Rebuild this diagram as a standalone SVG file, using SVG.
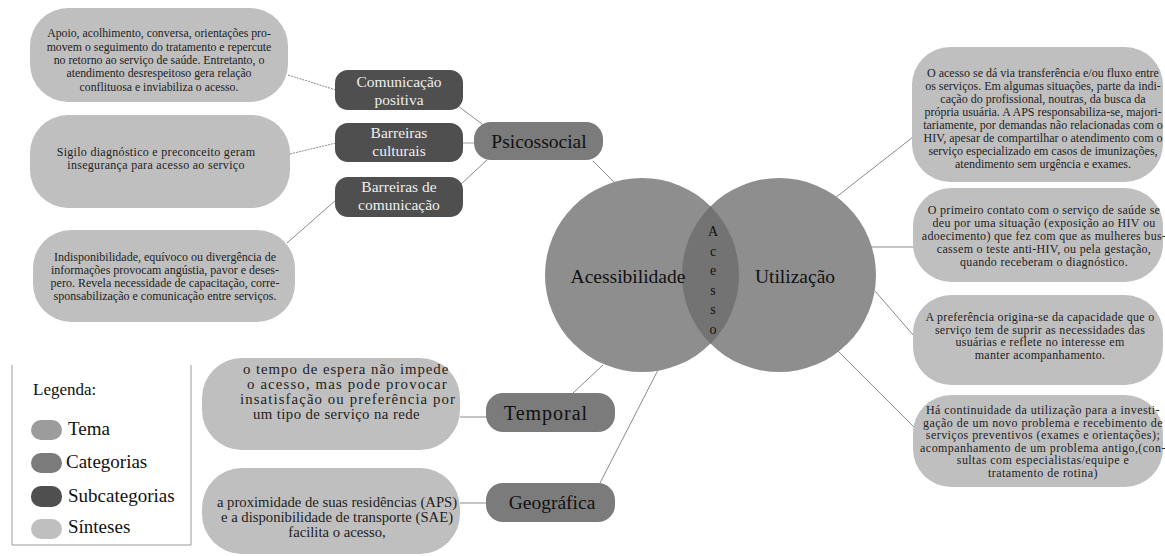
<svg xmlns="http://www.w3.org/2000/svg" width="1165" height="556" viewBox="0 0 1165 556">
<style>
text{font-family:"Liberation Serif","Times New Roman",serif;}
.syn{fill:#bfbfbf;}
.sub{fill:#4f4f4f;}
.cat{fill:#7b7b7b;}
.st{font-size:12px;fill:#222;text-anchor:middle;}
.sbt{font-size:15.5px;fill:#eeeeee;text-anchor:middle;}
.ct{font-size:19.5px;fill:#111;text-anchor:middle;}
.ln{stroke:#8a8a8a;stroke-width:1;fill:none;}
.dl{stroke:#8a8a8a;stroke-width:1;fill:none;stroke-dasharray:2 1;}
.lg{font-size:19px;fill:#111;}
</style>
<rect width="1165" height="556" fill="#ffffff"/>
<g id="connectors">
<line class="dl" x1="288" y1="75" x2="336" y2="90"/>
<line class="dl" x1="290" y1="154" x2="336" y2="143"/>
<line class="ln" x1="287" y1="243" x2="336" y2="200"/>
<line class="ln" x1="458" y1="106" x2="482" y2="124"/>
<line x1="462" y1="143" x2="475" y2="143" stroke="#cfcfcf" stroke-width="2"/>
<line class="ln" x1="460" y1="185" x2="487" y2="160"/>
<line class="ln" x1="593" y1="161" x2="614" y2="182"/>
<line class="ln" x1="573" y1="393" x2="603" y2="365"/>
<line class="ln" x1="600" y1="483" x2="658" y2="370"/>
<line class="ln" x1="460" y1="417" x2="487" y2="417"/>
<line class="ln" x1="460" y1="503" x2="487" y2="503"/>
<line class="ln" x1="835" y1="198" x2="913" y2="137"/>
<line class="ln" x1="871" y1="247" x2="914" y2="247"/>
<line class="ln" x1="875" y1="291" x2="914" y2="336"/>
<line class="ln" x1="837" y1="350" x2="914" y2="427"/>
</g>
<g id="synth-apoio">
<rect class="syn" x="30" y="8" width="258" height="94" rx="38"/>
<g class="st" style="font-size:11.8px">
<text x="159" y="37">Apoio, acolhimento, conversa, orientações pro-</text>
<text x="159" y="51">movem o seguimento do tratamento e repercute</text>
<text x="159" y="64">no retorno ao serviço de saúde. Entretanto, o</text>
<text x="159" y="77">atendimento desrespeitoso gera relação</text>
<text x="159" y="91">conflituosa e inviabiliza o acesso.</text>
</g>
</g>
<g id="synth-sigilo">
<rect class="syn" x="30" y="115" width="260" height="93" rx="38"/>
<g class="st" style="letter-spacing:0.3px">
<text x="156" y="156">Sigilo diagnóstico e preconceito geram</text>
<text x="156" y="169">insegurança para acesso ao serviço</text>
</g>
</g>
<g id="synth-indisp">
<rect class="syn" x="33" y="230" width="262" height="92" rx="38"/>
<g class="st">
<text x="165" y="261">Indisponibilidade, equívoco ou divergência de</text>
<text x="165" y="274">informações provocam angústia, pavor e deses-</text>
<text x="165" y="287">pero. Revela necessidade de capacitação, corre-</text>
<text x="165" y="300">sponsabilização e comunicação entre serviços.</text>
</g>
</g>
<g id="sub-comunicacao">
<rect class="sub" x="335" y="70" width="128" height="40" rx="13"/>
<text class="sbt" x="399" y="87">Comunicação</text>
<text class="sbt" x="399" y="105">positiva</text>
</g>
<g id="sub-culturais">
<rect class="sub" x="335" y="123" width="128" height="39" rx="13"/>
<text class="sbt" x="399" y="138">Barreiras</text>
<text class="sbt" x="399" y="156">culturais</text>
</g>
<g id="sub-barreiras-com">
<rect class="sub" x="335" y="177" width="128" height="40" rx="13"/>
<text class="sbt" x="399" y="192">Barreiras de</text>
<text class="sbt" x="399" y="210">comunicação</text>
</g>
<g id="cat-psicossocial">
<rect class="cat" x="474" y="122" width="129" height="38" rx="17"/>
<text class="ct" x="539" y="148">Psicossocial</text>
</g>
<g id="theme-circles">
<circle cx="642" cy="275" r="97" fill="#8e8e8e"/>
<circle cx="779" cy="275" r="97" fill="#8e8e8e"/>
<path d="M710.5,206.3 A97,97 0 0,1 710.5,343.7 A97,97 0 0,1 710.5,206.3 Z" fill="#737373"/>
<text class="ct" x="628" y="283">Acessibilidade</text>
<text class="ct" x="795" y="283">Utilização</text>
<g style="font-size:14px;fill:#111;text-anchor:middle;">
<text x="713" y="236">A</text>
<text x="713" y="256">c</text>
<text x="713" y="275">e</text>
<text x="713" y="295">s</text>
<text x="713" y="314">s</text>
<text x="713" y="334">o</text>
</g>
</g>
<g id="cat-temporal">
<rect class="cat" x="486" y="393" width="129" height="39" rx="17"/>
<text class="ct" x="546" y="420" style="font-size:20px;letter-spacing:1px">Temporal</text>
</g>
<g id="cat-geografica">
<rect class="cat" x="486" y="483" width="129" height="39" rx="17"/>
<text class="ct" x="552" y="509">Geográfica</text>
</g>
<g id="synth-tempo">
<rect class="syn" x="202" y="358" width="258" height="92" rx="40"/>
<g style="font-size:14.8px;fill:#222;text-anchor:start;">
<text x="243" y="374" style="letter-spacing:0.95px">o tempo de espera não impede</text>
<text x="247" y="389" style="letter-spacing:1.15px">o acesso, mas pode provocar</text>
<text x="240" y="404" style="letter-spacing:1.1px">insatisfação ou preferência por</text>
<text x="253" y="419" style="letter-spacing:0.4px">um tipo de serviço na rede</text>
</g>
</g>
<g id="synth-proximidade">
<rect class="syn" x="202" y="468" width="258" height="86" rx="40"/>
<g style="font-size:14.7px;fill:#222;text-anchor:middle;">
<text x="337" y="507">a proximidade de suas residências (APS)</text>
<text x="337" y="522">e a disponibilidade de transporte (SAE)</text>
<text x="337" y="537">facilita o acesso,</text>
</g>
</g>
<g id="synth-transferencia">
<rect class="syn" x="912" y="47" width="251" height="135" rx="38"/>
<g class="st">
<text x="1043" y="77">O acesso se dá via transferência e/ou fluxo entre</text>
<text x="1043" y="90">os serviços. Em algumas situações, parte da indi-</text>
<text x="1043" y="103">cação do profissional, noutras, da busca da</text>
<text x="1043" y="116">própria usuária. A APS responsabiliza-se, majori-</text>
<text x="1043" y="129">tariamente, por demandas não relacionadas com o</text>
<text x="1043" y="142">HIV, apesar de compartilhar o atendimento com o</text>
<text x="1043" y="155">serviço especializado em casos de imunizações,</text>
<text x="1043" y="168">atendimento sem urgência e exames.</text>
</g>
</g>
<g id="synth-primeiro">
<rect class="syn" x="913" y="188" width="250" height="94" rx="38"/>
<g class="st" style="letter-spacing:0.3px">
<text x="1044" y="214">O primeiro contato com o serviço de saúde se</text>
<text x="1044" y="227">deu por uma situação (exposição ao HIV ou</text>
<text x="1044" y="240">adoecimento) que fez com que as mulheres bus-</text>
<text x="1044" y="253">cassem o teste anti-HIV, ou pela gestação,</text>
<text x="1044" y="266">quando receberam o diagnóstico.</text>
</g>
</g>
<g id="synth-preferencia">
<rect class="syn" x="913" y="295" width="250" height="90" rx="38"/>
<g class="st" style="letter-spacing:0.3px">
<text x="1040" y="321">A preferência origina-se da capacidade que o</text>
<text x="1040" y="334">serviço tem de suprir as necessidades das</text>
<text x="1040" y="346">usuárias e reflete no interesse em</text>
<text x="1040" y="359">manter acompanhamento.</text>
</g>
</g>
<g id="synth-continuidade">
<rect class="syn" x="913" y="395" width="250" height="92" rx="38"/>
<g class="st" style="letter-spacing:0.45px">
<text x="1043" y="414">Há continuidade da utilização para a investi-</text>
<text x="1043" y="427">gação de um novo problema e recebimento de</text>
<text x="1043" y="439">serviços preventivos (exames e orientações);</text>
<text x="1043" y="452">acompanhamento de um problema antigo,(con-</text>
<text x="1043" y="464">sultas com especialistas/equipe e</text>
<text x="1043" y="477">tratamento de rotina)</text>
</g>
</g>
<g id="legend">
<path d="M12,365 V545 H191 V365" fill="none" stroke="#9a9a9a" stroke-width="1"/>
<text x="33" y="395" style="font-size:17px;fill:#111;">Legenda:</text>
<rect x="31" y="420" width="31" height="20" rx="10" fill="#9c9c9c"/>
<text class="lg" x="68" y="435">Tema</text>
<rect x="31" y="453" width="31" height="20" rx="10" fill="#7b7b7b"/>
<text class="lg" x="66" y="468">Categorias</text>
<rect x="31" y="486" width="31" height="21" rx="10" fill="#4f4f4f"/>
<text class="lg" x="68" y="502">Subcategorias</text>
<rect x="31" y="519" width="31" height="20" rx="10" fill="#bfbfbf"/>
<text class="lg" x="68" y="533">Sínteses</text>
</g>
</svg>
